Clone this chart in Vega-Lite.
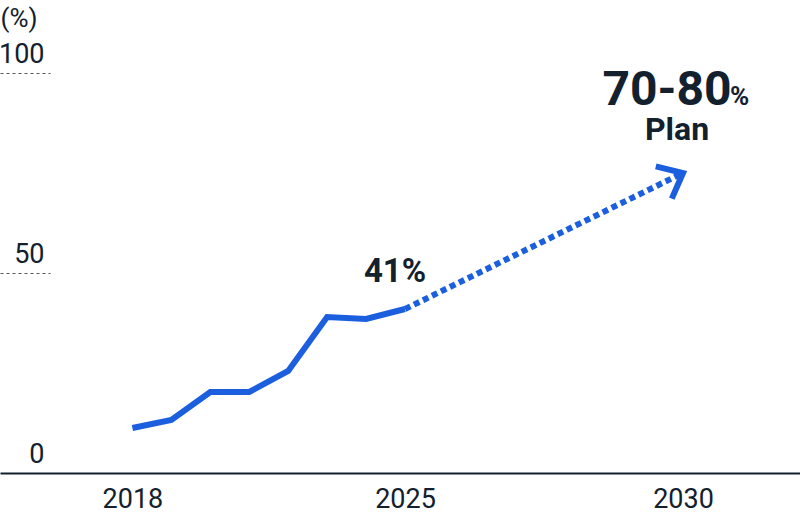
{
  "$schema": "https://vega.github.io/schema/vega-lite/v6.json",
  "width": 800,
  "height": 473,
  "autosize": {"type": "none"},
  "padding": {"left": 0, "top": 0, "right": 0, "bottom": 47},
  "background": "white",
  "config": {
    "view": {"stroke": null},
    "font": "Roboto"
  },
  "datasets": {
    "actual": [
      {"year": 2018, "value": 11.25},
      {"year": 2019, "value": 13.25},
      {"year": 2020, "value": 20.25},
      {"year": 2021, "value": 20.25},
      {"year": 2022, "value": 25.5},
      {"year": 2023, "value": 39},
      {"year": 2024, "value": 38.5},
      {"year": 2025, "value": 41}
    ],
    "plan": [
      {"year": 2025, "value": 41},
      {"year": 2030, "value": 75}
    ],
    "latest": [
      {"year": 2025, "value": 41, "label": "41%"}
    ],
    "target": [
      {"year": 2030, "value": 75, "range": "70-80", "unit": "%", "note": "Plan"}
    ]
  },
  "encoding": {
    "x": {
      "field": "year",
      "type": "quantitative",
      "scale": {"domain": [2014.6, 2025, 2030, 2032.1], "range": [0, 405, 683, 800], "nice": false, "zero": false},
      "axis": {
        "values": [2018, 2025, 2030],
        "format": "d",
        "title": null,
        "grid": false,
        "ticks": false,
        "domainColor": "#13212e",
        "domainWidth": 2,
        "labelFontSize": 27,
        "labelColor": "#13212e",
        "labelPadding": 13,
        "labelOverlap": false,
        "labelFlush": false,
        "zindex": 1
      }
    },
    "y": {
      "field": "value",
      "type": "quantitative",
      "scale": {"domain": [0, 118.25], "nice": false, "zero": false},
      "axis": {
        "orient": "left",
        "values": [0, 50, 100],
        "domain": false,
        "grid": false,
        "ticks": true,
        "tickSize": -50,
        "tickDash": [3, 3],
        "tickColor": "#555555",
        "tickWidth": 1,
        "tickOpacity": {"condition": {"test": "datum.value === 0", "value": 0}, "value": 1},
        "labelPadding": 6,
        "labelAlign": "right",
        "labelBaseline": "alphabetic",
        "labelOffset": -11,
        "labelFontSize": 27,
        "labelColor": "#13212e",
        "labelOverlap": false,
        "title": "(%)",
        "titleAngle": 0,
        "titleX": 0,
        "titleY": 26,
        "titleAlign": "left",
        "titleBaseline": "alphabetic",
        "titleFontSize": 26,
        "titleFontWeight": "normal",
        "titleColor": "#13212e"
      }
    }
  },
  "layer": [
    {
      "data": {"name": "actual"},
      "mark": {"type": "line", "color": "#1b5fde", "strokeWidth": 6, "strokeJoin": "miter"}
    },
    {
      "data": {"name": "plan"},
      "mark": {"type": "line", "color": "#1b5fde", "strokeWidth": 6, "strokeDash": [6, 4], "strokeCap": "butt"}
    },
    {
      "data": {"name": "plan"},
      "transform": [{"filter": "datum.year === 2030"}],
      "mark": {
        "type": "point",
        "shape": "M-0.766,-0.643L0,0L-0.766,0.643",
        "size": 3136,
        "angle": -26.4,
        "filled": false,
        "stroke": "#1b5fde",
        "strokeWidth": 6,
        "strokeJoin": "miter",
        "opacity": 1
      }
    },
    {
      "data": {"name": "latest"},
      "mark": {"type": "text", "fontSize": 33, "fontWeight": "bold", "color": "#13212e", "align": "center", "baseline": "alphabetic", "dx": -10, "dy": -27},
      "encoding": {"text": {"field": "label"}}
    },
    {
      "data": {"name": "target"},
      "mark": {"type": "text", "fontSize": 48, "fontWeight": "bold", "color": "#13212e", "align": "center", "baseline": "alphabetic", "dx": -16, "dy": -68},
      "encoding": {"text": {"field": "range"}}
    },
    {
      "data": {"name": "target"},
      "mark": {"type": "text", "fontSize": 26, "fontWeight": "bold", "color": "#13212e", "align": "left", "baseline": "alphabetic", "dx": 47, "dy": -68},
      "encoding": {"text": {"field": "unit"}}
    },
    {
      "data": {"name": "target"},
      "mark": {"type": "text", "fontSize": 32, "fontWeight": "bold", "color": "#13212e", "align": "center", "baseline": "alphabetic", "dx": -6, "dy": -33},
      "encoding": {"text": {"field": "note"}}
    }
  ]
}
